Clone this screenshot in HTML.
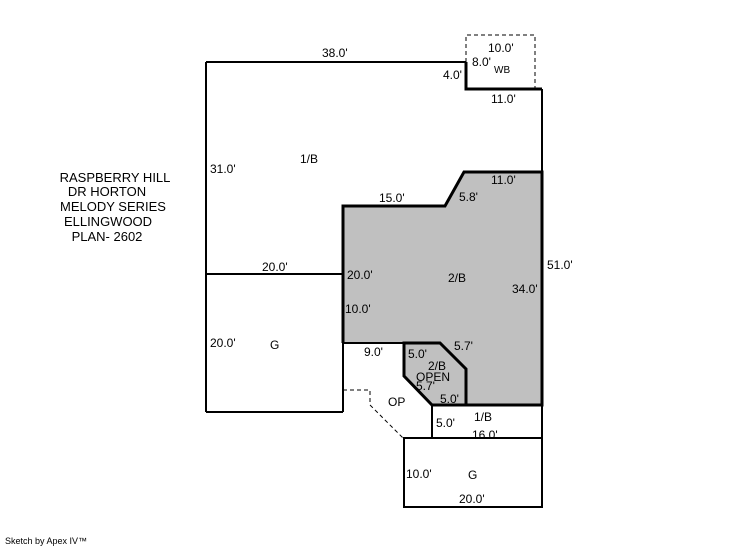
<!DOCTYPE html>
<html><head><style>body{margin:0;background:#fff}svg{display:block}text{font-family:"Liberation Sans",sans-serif;font-size:12px;fill:#000}</style></head><body>
<svg width="746" height="547" viewBox="0 0 746 547">
<polygon points="343,206 445,206 464,172 542,172 542,405 432,405 404,376 404,343 343,343" fill="#c0c0c0"/>
<g fill="none" stroke="#000" stroke-width="2">
<polyline points="206,62 466,62"/>
<line x1="206" y1="62" x2="206" y2="412"/>
<line x1="206" y1="274" x2="343" y2="274"/>
<line x1="206" y1="412" x2="343" y2="412"/>
<line x1="343" y1="343" x2="343" y2="412"/>
<line x1="343" y1="343" x2="404" y2="343"/>
<line x1="542" y1="89" x2="542" y2="172"/>
<rect x="432" y="405" width="110" height="33"/>
<rect x="404" y="438" width="138" height="69"/>
</g>
<g fill="none" stroke="#000" stroke-width="3">
<polyline points="466,62 466,89 542,89"/>
<polyline points="343,343 343,206 445,206 464,172 542,172 542,405 432,405"/>
<polygon points="404,343 440,343 466,369 466,405 432,405 404,376"/>
</g>
<g fill="none" stroke="#000" stroke-width="1" stroke-dasharray="4,3">
<polyline points="466,62 466,35 535,35 535,89"/>
<polyline points="343,390 370,390 370,405 403,438"/>
</g>
<text x="322" y="57">38.0'</text>
<text x="488" y="52">10.0'</text>
<text x="472" y="66">8.0'</text>
<text x="494" y="73" style="font-size:10px">WB</text>
<text x="443" y="79">4.0'</text>
<text x="491" y="103">11.0'</text>
<text x="300" y="163">1/B</text>
<text x="210" y="173">31.0'</text>
<text x="491" y="184">11.0'</text>
<text x="459" y="201">5.8'</text>
<text x="379" y="202">15.0'</text>
<g style="text-anchor:middle">
<text x="115" y="182" style="font-size:13px">RASPBERRY HILL</text>
<text x="107" y="196" style="font-size:13px">DR HORTON</text>
<text x="113" y="211" style="font-size:13px">MELODY SERIES</text>
<text x="108" y="226" style="font-size:13px">ELLINGWOOD</text>
<text x="107" y="241" style="font-size:13px">PLAN- 2602</text>
</g>
<text x="262" y="271">20.0'</text>
<text x="347" y="279">20.0'</text>
<text x="448" y="282">2/B</text>
<text x="547" y="269">51.0'</text>
<text x="512" y="293">34.0'</text>
<text x="345" y="313">10.0'</text>
<text x="210" y="347">20.0'</text>
<text x="270" y="349">G</text>
<text x="454" y="350">5.7'</text>
<text x="364" y="356">9.0'</text>
<text x="408" y="358">5.0'</text>
<text x="428" y="370">2/B</text>
<text x="416" y="381">OPEN</text>
<text x="416" y="390">5.7'</text>
<text x="388" y="406">OP</text>
<text x="440" y="403">5.0'</text>
<text x="474" y="421">1/B</text>
<text x="436" y="427">5.0'</text>
<text x="472" y="439">16.0'</text>
<text x="406" y="478">10.0'</text>
<text x="468" y="479">G</text>
<text x="459" y="503">20.0'</text>
<text x="5" y="544" style="font-size:9px">Sketch by Apex IV™</text>
</svg>
</body></html>
